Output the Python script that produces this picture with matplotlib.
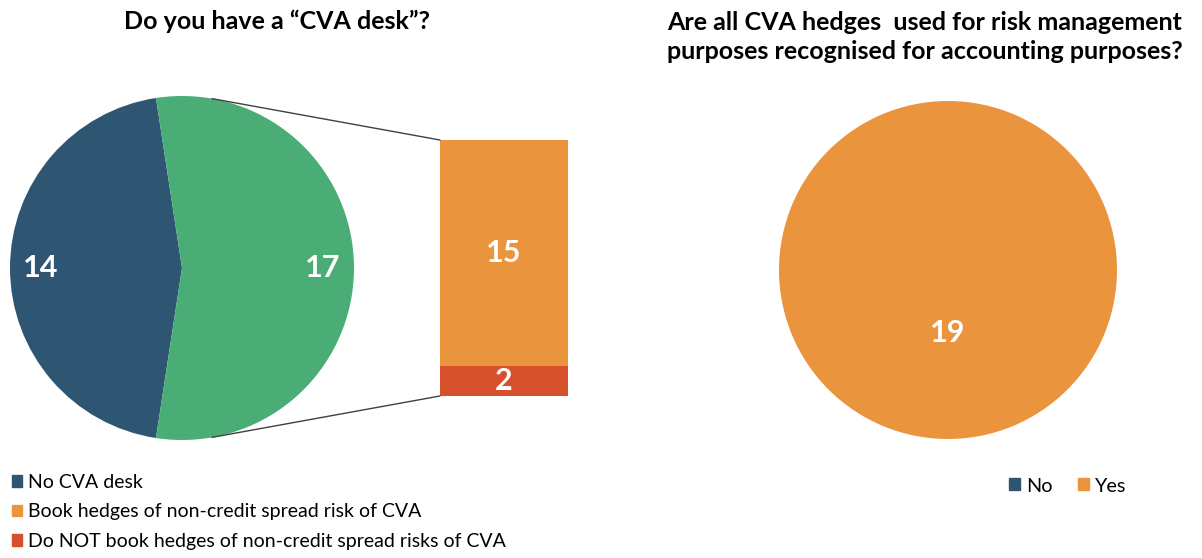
import matplotlib
matplotlib.use('Agg')
import matplotlib.pyplot as plt
from matplotlib.patches import Patch, ConnectionPatch
import numpy as np

W, H = 1202, 558

# data
desk_labels = ['No CVA desk', 'CVA desk']
desk_values = [14, 17]
split_labels = ['Book hedges of non-credit spread risk of CVA',
                'Do NOT book hedges of non-credit spread risks of CVA']
split_values = [15, 2]
hedge_labels = ['No', 'Yes']
hedge_values = [0, 19]

BLUE = '#2E5572'
GREEN = '#4AAD76'
ORANGE = '#EA943D'
RED = '#D5502B'

plt.rcParams['font.family'] = ['Lato', 'DejaVu Sans']

fig = plt.figure(figsize=(W / 100, H / 100), dpi=100)


def px_axes(cx, cy, w, h):
    # axes placed by pixel centre and size (y from top)
    return fig.add_axes([(cx - w / 2) / W, (H - cy - h / 2) / H, w / W, h / H])


# left pie
r1 = 172
ax1 = px_axes(182, 268, 2 * r1, 2 * r1)
tot = sum(desk_values)
start = 180 - 360 * desk_values[0] / tot / 2
ax1.pie(desk_values, colors=[BLUE, GREEN], startangle=start, counterclock=True,
        autopct=lambda p: f'{round(p * tot / 100)}', pctdistance=0.82,
        textprops=dict(color='white', fontsize=22, fontweight='bold'),
        wedgeprops=dict(linewidth=0))
ax1.set_xlim(-1, 1)
ax1.set_ylim(-1, 1)
ax1.axis('off')

# bar of the pie
axb = px_axes(504, 268, 128, 256)
axb.bar([0], [split_values[1]], width=1, color=RED)
axb.bar([0], [split_values[0]], width=1, bottom=split_values[1], color=ORANGE)
axb.text(0, split_values[1] + split_values[0] / 2, str(split_values[0]), color='white',
         fontsize=22, fontweight='bold', ha='center', va='center')
axb.text(0, split_values[1] / 2, str(split_values[1]), color='white',
         fontsize=22, fontweight='bold', ha='center', va='center')
axb.set_xlim(-0.5, 0.5)
axb.set_ylim(0, sum(split_values))
axb.axis('off')

# connector lines
a = np.deg2rad(80)
for sgn, yb in [(1, sum(split_values)), (-1, 0)]:
    con = ConnectionPatch(xyA=(np.cos(a), sgn * np.sin(a)), coordsA=ax1.transData,
                          xyB=(-0.5, yb), coordsB=axb.transData,
                          color='#404040', linewidth=1)
    fig.add_artist(con)

# right pie
r2 = 169
ax2 = px_axes(948, 270, 2 * r2, 2 * r2)
tot2 = sum(hedge_values)
ax2.pie(hedge_values, colors=[BLUE, ORANGE], startangle=90, counterclock=False,
        autopct=lambda p: f'{round(p * tot2 / 100)}' if p > 0 else '', pctdistance=0.37,
        textprops=dict(color='white', fontsize=22, fontweight='bold'),
        wedgeprops=dict(linewidth=0))
ax2.set_xlim(-1, 1)
ax2.set_ylim(-1, 1)
ax2.axis('off')

# titles
fig.text(277 / W, 1 - 21 / H, 'Do you have a “CVA desk”?', ha='center', va='center',
         fontsize=18, fontweight='bold')
fig.text(925 / W, 1 - 37 / H,
         'Are all CVA hedges  used for risk management\npurposes recognised for accounting purposes?',
         ha='center', va='center', fontsize=18, fontweight='bold', linespacing=1.3)

# legends
h1 = [Patch(color=BLUE), Patch(color=ORANGE), Patch(color=RED)]
fig.legend(h1, [desk_labels[0]] + split_labels, loc='upper left',
           bbox_to_anchor=(4 / W, 1 - 466 / H), frameon=False, fontsize=14,
           handlelength=0.55, handleheight=0.55, handletextpad=0.3, labelspacing=0.65,
           borderaxespad=0)
h2 = [Patch(color=BLUE), Patch(color=ORANGE)]
fig.legend(h2, hedge_labels, loc='center', bbox_to_anchor=(1068 / W, 1 - 486 / H),
           ncol=2, frameon=False, fontsize=14.3, handlelength=0.55, handleheight=0.55,
           handletextpad=0.3, columnspacing=1.3, borderaxespad=0)

fig.savefig('out.png', dpi=100)
